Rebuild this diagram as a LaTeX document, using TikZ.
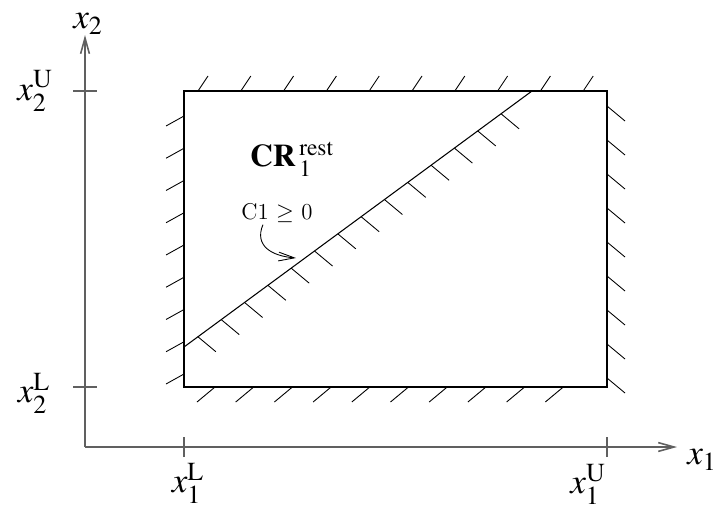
\documentclass[tikz,border=0pt]{standalone}
\usepackage{mathptmx}
\usetikzlibrary{arrows.meta,calc}
\begin{document}
\begin{tikzpicture}[x=0.02cm,y=0.02cm,>={Straight Barb[length=9pt,width=5pt]},
	axis/.style={line width=0.9pt,gray!75!black},
	edge/.style={line width=0.6pt},
	hatch/.style={line width=0.5pt},
	lab/.style={inner sep=0pt,font=\fontsize{20}{20}\selectfont}]
	\useasboundingbox (0,0) rectangle (715,508);
	\coordinate (O) at (85,61);
	\coordinate (X) at (677,61);
	\coordinate (Y) at (85,473);
	\coordinate (A) at (184,121);
	\coordinate (B) at (607,417);
	\coordinate (P) at (184,161);
	\coordinate (Q) at (532,417);
	\coordinate (T) at (296,250);
	
	\draw [axis,->] (O)--(X);
	\draw [axis,->] (O)--(Y);
	\node[lab] (x1) at (702,48) {$x_1$};
	\node[lab] (x2) at (88,484) {$x_2$};
	
	\draw [axis,line width=0.6pt] (73,417)--(97,417);
	\draw [axis,line width=0.6pt] (73,121)--(97,121);
	\draw [axis,line width=0.6pt] (184,51)--(184,71);
	\draw [axis,line width=0.6pt] (607,51)--(607,71);
	\node[lab] (x2U) at (35,417) {$x_2^{\mathrm{U}}$};
	\node[lab] (x2L) at (34,115) {$x_2^{\mathrm{L}}$};
	\node[lab] (x1L) at (188,25) {$x_1^{\mathrm{L}}$};
	\node[lab] (x1U) at (588,24) {$x_1^{\mathrm{U}}$};
	
	\draw [edge] (A) rectangle (B);
	\foreach \i in {0,...,9} \draw [hatch] ({198+42.8*\i},417)--++(10,15);
	\foreach \i in {0,...,9} \draw [hatch] ({215+38.7*\i},121)--++(-18,-15);
	\foreach \i in {0,...,8} \draw [hatch] (184,{392-32.25*\i})--++(-18,-10);
	\foreach \i in {0,...,8} \draw [hatch] (607,{402-34*\i})--++(18,-15);
	
	\draw [edge] (P)--(Q);
	\foreach \i in {0,...,13} \draw [hatch] ($(P)!{0.04+0.067*\i}!(Q)$)--++(18,-15);
	
	\node[font=\fontsize{18}{18}\selectfont] (cr) at (292,349) {$\mathbf{CR}\,_1^{\mathrm{rest}}$};
	\node[font=\fontsize{13}{13}\selectfont,inner sep=1pt] (cond) at (277,295) {C1 $\geq$ 0};
	\draw [hatch,->] ([xshift=-8pt]cond.south) .. controls (254,262) and (272,252) .. (T);
\end{tikzpicture}
\end{document}
